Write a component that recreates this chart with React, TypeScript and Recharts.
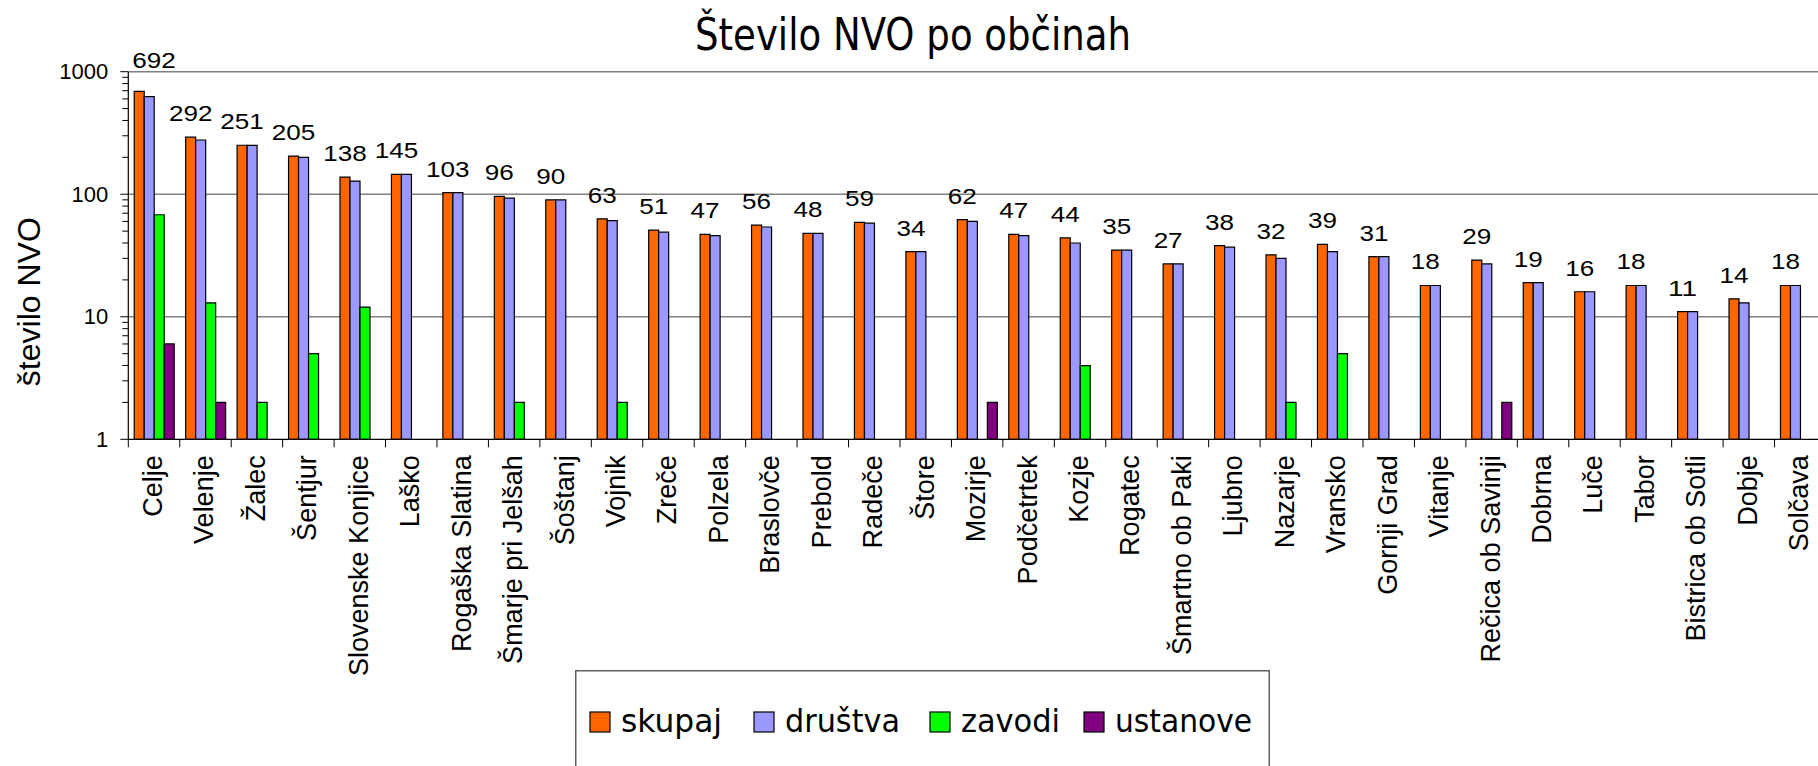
import React from 'react';
import { BarChart, Bar, XAxis, YAxis, CartesianGrid, Legend } from 'recharts';

// ---------- data ----------
const categories = [
  'Celje', 'Velenje', 'Žalec', 'Šentjur', 'Slovenske Konjice', 'Laško', 'Rogaška Slatina',
  'Šmarje pri Jelšah', 'Šoštanj', 'Vojnik', 'Zreče', 'Polzela', 'Braslovče', 'Prebold', 'Radeče',
  'Štore', 'Mozirje', 'Podčetrtek', 'Kozje', 'Rogatec', 'Šmartno ob Paki', 'Ljubno', 'Nazarje',
  'Vransko', 'Gornji Grad', 'Vitanje', 'Rečica ob Savinji', 'Dobrna', 'Luče', 'Tabor',
  'Bistrica ob Sotli', 'Dobje', 'Solčava',
];
const skupaj = [692, 292, 251, 205, 138, 145, 103, 96, 90, 63, 51, 47, 56, 48, 59, 34, 62, 47, 44, 35, 27, 38, 32, 39, 31, 18, 29, 19, 16, 18, 11, 14, 18];
const drustva = [625, 277, 250, 200, 128, 145, 103, 93, 90, 61, 49, 46, 54, 48, 58, 34, 60, 46, 40, 35, 27, 37, 30, 34, 31, 18, 27, 19, 16, 18, 11, 13, 18];
const zavodi: (number | null)[] = [68, 13, 2, 5, 12, null, null, 2, null, 2, null, null, null, null, null, null, null, null, 4, null, null, null, 2, 5, null, null, null, null, null, null, null, null, null];
const ustanove: (number | null)[] = [6, 2, null, null, null, null, null, null, null, null, null, null, null, null, null, null, 2, null, null, null, null, null, null, null, null, null, 2, null, null, null, null, null, null];

const seriesKeys = ['skupaj', 'drustva', 'zavodi', 'ustanove'];
const seriesNames = ['skupaj', 'društva', 'zavodi', 'ustanove'];
const seriesColors = ['#FF6600', '#9999FF', '#00FF00', '#800080'];

const yTicks = [1, 2, 3, 4, 5, 6, 7, 8, 9, 10, 20, 30, 40, 50, 60, 70, 80, 90, 100, 200, 300, 400, 500, 600, 700, 800, 900, 1000];
const yMajorTicks = [1, 10, 100, 1000];
const gridValues = [10, 100, 1000];

const titleText = 'Število NVO po občinah';
const yAxisTitle = 'število NVO';

// ---------- layout ----------
const CHART_W = 1840;
const CHART_H = 766;
const PLOT_LEFT = 128.3;
const PLOT_RIGHT = 1826;
const PLOT_TOP = 71.7;
const PLOT_BOTTOM = 439.3;
const Y_AXIS_W = 60;
const X_AXIS_H = 200;
const BAND = (PLOT_RIGHT - PLOT_LEFT) / categories.length;

const LABEL_FONT = "'Liberation Sans', Arial, sans-serif";
const TITLE_FONT = "'DejaVu Sans', Tahoma, sans-serif";

const data = categories.map((name, i) => ({
  name,
  skupaj: skupaj[i],
  drustva: drustva[i],
  zavodi: zavodi[i],
  ustanove: ustanove[i],
}));

const XTick = (props: any) => {
  const { x, y, payload } = props;
  const lx = x - BAND / 2;
  const tx = x - 1;
  const ty = y + 16;
  return (
    <g>
      <line x1={lx} x2={lx} y1={y} y2={y + 8} stroke="#000" strokeWidth={1} />
      <text
        x={tx}
        y={ty}
        transform={`rotate(-90 ${tx} ${ty})`}
        textAnchor="end"
        dominantBaseline="central"
        fontSize={27}
        fontFamily={LABEL_FONT}
        fill="#000"
      >
        {payload.value}
      </text>
    </g>
  );
};

const YTick = (props: any) => {
  const { x, y, payload } = props;
  const v = payload.value;
  const major = yMajorTicks.includes(v);
  return (
    <g>
      <line x1={x - (major ? 8 : 6)} x2={x} y1={y} y2={y} stroke="#000" strokeWidth={1} />
      {major && (
        <text x={x - 20} y={y} textAnchor="end" dominantBaseline="central" fontSize={22} fontFamily={LABEL_FONT} fill="#000">
          {v}
        </text>
      )}
    </g>
  );
};

const DIGIT_W = 14.5;
const SkupajLabel = (props: any) => {
  const { x, y, width, value } = props;
  if (value == null) return null;
  const s = String(value);
  const len = s.length * DIGIT_W;
  let cx = x + width / 2;
  // keep label inside the plot area horizontally (as the original does)
  if (cx - len / 2 < PLOT_LEFT + 4) cx = PLOT_LEFT + 4 + len / 2;
  let by = y - 16;
  if (by > PLOT_TOP - 3.4 && y - PLOT_TOP < 30) by = PLOT_TOP - 3.4;
  return (
    <text
      x={cx}
      y={by}
      textAnchor="middle"
      fontSize={22}
      fontFamily={LABEL_FONT}
      fill="#000"
      textLength={len}
      lengthAdjust="spacingAndGlyphs"
    >
      {s}
    </text>
  );
};

// legend item placement (relative to legend box)
const LEGEND_BOX = { left: 575, top: 670, width: 695, height: 120 };
const legendSquareX = [15, 179, 355, 509];
const legendTextX = [46, 210, 386, 540];
const legendTextLen = [101, 115, 99, 137];

const LegendContent = (props: any) => {
  const payload = [...(props.payload || [])].sort(
    (a: any, b: any) => seriesNames.indexOf(a.value) - seriesNames.indexOf(b.value),
  );
  return (
    <svg width={LEGEND_BOX.width} height={LEGEND_BOX.height} style={{ display: 'block' }}>
      <rect x={0.75} y={0.75} width={LEGEND_BOX.width - 1.5} height={LEGEND_BOX.height + 10} fill="#fff" stroke="#606060" strokeWidth={1.5} />
      {payload.map((p: any, i: number) => (
        <g key={i}>
          <rect x={legendSquareX[i]} y={42} width={20} height={20} fill={p.color} stroke="#000" strokeWidth={1.2} />
          <text
            x={legendTextX[i]}
            y={62}
            fontSize={32}
            fontFamily={TITLE_FONT}
            fill="#000"
            textLength={legendTextLen[i]}
            lengthAdjust="spacingAndGlyphs"
          >
            {p.value}
          </text>
        </g>
      ))}
    </svg>
  );
};

export default function App() {
  return (
    <div style={{ position: 'absolute', left: 0, top: 0, width: 1818, height: 766, overflow: 'hidden', background: '#fff' }}>
      <BarChart
        width={CHART_W}
        height={CHART_H}
        data={data}
        margin={{
          top: PLOT_TOP,
          left: PLOT_LEFT - Y_AXIS_W,
          right: CHART_W - PLOT_RIGHT,
          bottom: CHART_H - PLOT_BOTTOM - X_AXIS_H,
        }}
        barCategoryGap="11.5%"
        barGap={0}
      >
        <CartesianGrid vertical={false} horizontalValues={gridValues} stroke="#808080" strokeWidth={1.5} />
        <XAxis
          dataKey="name"
          interval={0}
          height={X_AXIS_H}
          tickSize={0}
          tickMargin={0}
          tickLine={false}
          axisLine={{ stroke: '#000', strokeWidth: 1.2 }}
          tick={<XTick />}
        />
        <YAxis
          scale="log"
          domain={[1, 1000]}
          ticks={yTicks}
          interval={0}
          allowDataOverflow
          width={Y_AXIS_W}
          tickSize={0}
          tickMargin={0}
          tickLine={false}
          axisLine={{ stroke: '#000', strokeWidth: 1.2 }}
          tick={<YTick />}
        />
        <Legend
          layout="horizontal"
          verticalAlign="middle"
          align="center"
          wrapperStyle={{ left: LEGEND_BOX.left, top: LEGEND_BOX.top, width: LEGEND_BOX.width, height: LEGEND_BOX.height }}
          content={<LegendContent />}
        />
        {seriesKeys.map((k, i) => (
          <Bar
            key={k}
            dataKey={k}
            name={seriesNames[i]}
            fill={seriesColors[i]}
            stroke="#000"
            strokeWidth={1.2}
            isAnimationActive={false}
            label={i === 0 ? <SkupajLabel /> : undefined}
          />
        ))}
      </BarChart>
      <svg width={1818} height={766} style={{ position: 'absolute', left: 0, top: 0, pointerEvents: 'none' }}>
        <text
          x={913}
          y={50}
          textAnchor="middle"
          fontSize={44}
          fontFamily={TITLE_FONT}
          fill="#000"
          textLength={436}
          lengthAdjust="spacingAndGlyphs"
        >
          {titleText}
        </text>
        <text
          x={29}
          y={301.7}
          transform="rotate(-90 29 301.7)"
          textAnchor="middle"
          dominantBaseline="central"
          fontSize={32}
          fontFamily={LABEL_FONT}
          fill="#000"
        >
          {yAxisTitle}
        </text>
      </svg>
    </div>
  );
}
